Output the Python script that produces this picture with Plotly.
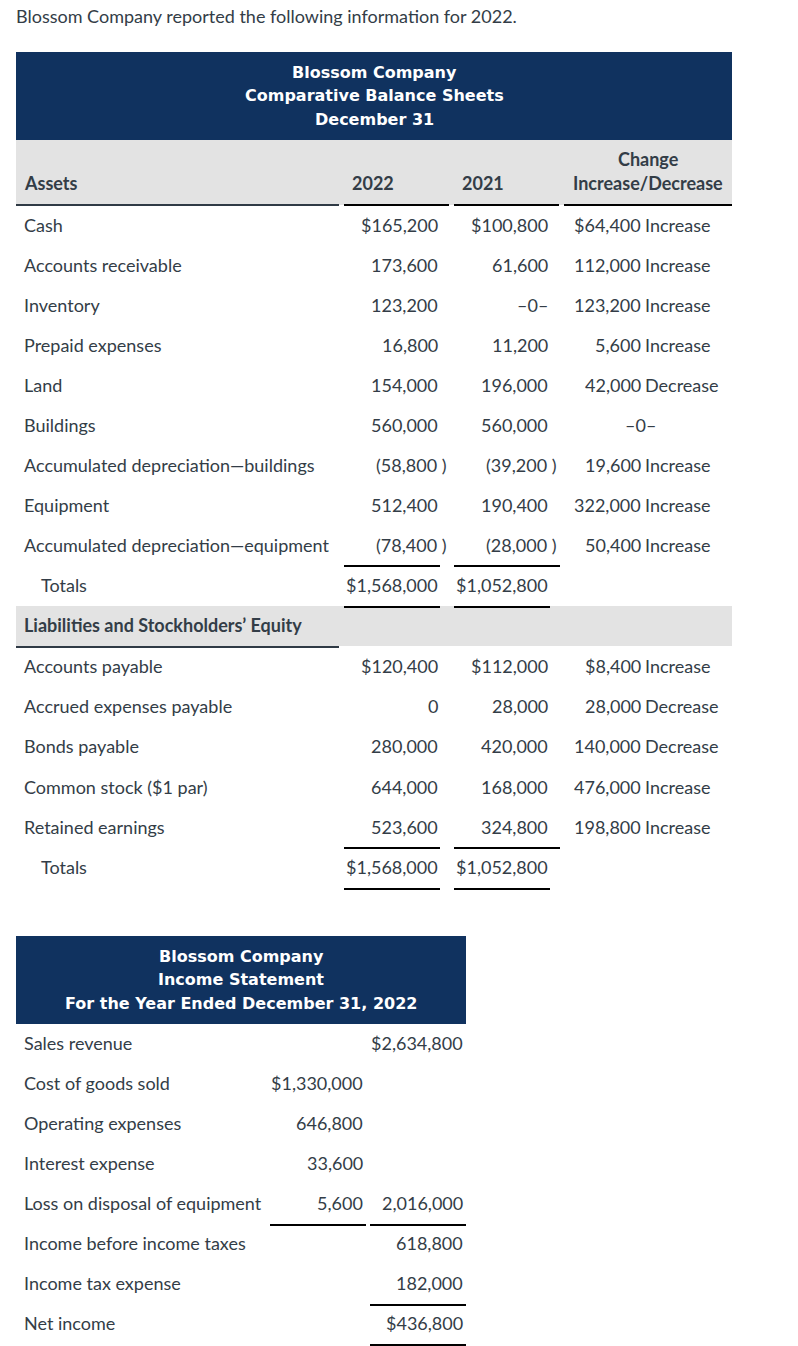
"""
Blossom Company balance sheet and income statement, drawn as a Plotly figure
"""

import plotly.graph_objects as go

W, H = 798, 1346
NAVY = "#10325f"
GREY = "#e3e3e3"
INK = "#333d47"
RULE = "#2f3a45"
FONT = "Lato"
HEAD_FONT = "DejaVu Sans"

# Text and values
intro = "Blossom Company reported the following information for 2022."
bs_title = ["Blossom Company", "Comparative Balance Sheets", "December 31"]
year_labels = ["2022", "2021"]
change_label = ["Change", "Increase/Decrease"]

asset_items = [
    "Cash", "Accounts receivable", "Inventory", "Prepaid expenses", "Land",
    "Buildings", "Accumulated depreciation\u2014buildings", "Equipment",
    "Accumulated depreciation\u2014equipment",
]
assets_2022 = ["$165,200", "173,600", "123,200", "16,800", "154,000",
               "560,000", "(58,800 )", "512,400", "(78,400 )"]
assets_2021 = ["$100,800", "61,600", "\u20130\u2013", "11,200", "196,000",
               "560,000", "(39,200 )", "190,400", "(28,000 )"]
asset_change = ["$64,400", "112,000", "123,200", "5,600", "42,000",
                "\u20130\u2013", "19,600", "322,000", "50,400"]
asset_direction = ["Increase", "Increase", "Increase", "Increase", "Decrease",
                   "", "Increase", "Increase", "Increase"]
asset_totals = ["$1,568,000", "$1,052,800"]

liab_items = ["Accounts payable", "Accrued expenses payable", "Bonds payable",
              "Common stock ($1 par)", "Retained earnings"]
liab_2022 = ["$120,400", "0", "280,000", "644,000", "523,600"]
liab_2021 = ["$112,000", "28,000", "420,000", "168,000", "324,800"]
liab_change = ["$8,400", "28,000", "140,000", "476,000", "198,800"]
liab_direction = ["Increase", "Decrease", "Decrease", "Increase", "Increase"]
liab_totals = ["$1,568,000", "$1,052,800"]

is_title = ["Blossom Company", "Income Statement",
            "For the Year Ended December 31, 2022"]
is_items = ["Sales revenue", "Cost of goods sold", "Operating expenses",
            "Interest expense", "Loss on disposal of equipment",
            "Income before income taxes", "Income tax expense", "Net income"]
is_col1 = ["", "$1,330,000", "646,800", "33,600", "5,600", "", "", ""]
is_col2 = ["$2,634,800", "", "", "", "2,016,000", "618,800", "182,000",
           "$436,800"]

fig = go.Figure()
ann = []
shapes = []


def txt(x, y, s, anchor="left", bold=False, color=INK, size=18, family=FONT):
    ann.append(dict(x=x, y=y, text=s, xref="x", yref="y", showarrow=False,
                    xanchor=anchor, yanchor="middle", borderpad=0,
                    borderwidth=0,
                    font=dict(family=family, size=size, color=color,
                              weight="bold" if bold else "normal")))


def head(x, y, s):
    txt(x, y, s, "center", True, "white", 16, HEAD_FONT)


def rect(x0, y0, x1, y1, color):
    shapes.append(dict(type="rect", xref="x", yref="y", x0=x0, y0=y0,
                       x1=x1, y1=y1, fillcolor=color, line=dict(width=0),
                       layer="below"))


def rule(x0, x1, y, color="black", width=2):
    shapes.append(dict(type="line", xref="x", yref="y", x0=x0, x1=x1,
                       y0=y, y1=y, line=dict(color=color, width=width)))


def num(x, y, s):
    # parenthesised amounts hang their ")" past the column edge
    if s.startswith("("):
        txt(x + 9, y, s, "right")
    else:
        txt(x, y, s, "right")


# intro line
txt(16, 16, intro)

# balance sheet header
rect(16, 52, 732, 140, NAVY)
for i, line in enumerate(bs_title):
    head(374, 72 + 23.5 * i, line)
rect(16, 140, 732, 205, GREY)
txt(24, 183, "Assets", bold=True)
txt(373, 183, year_labels[0], "center", True)
txt(483, 183, year_labels[1], "center", True)
txt(648, 159, change_label[0], "center", True)
txt(648, 183, change_label[1], "center", True)
rule(16, 339, 205, RULE)
rule(344, 449, 205)
rule(454, 559, 205)
rule(564, 732, 205)

COL22, COL21, CHG = 438, 548, 641

for i, item in enumerate(asset_items):
    y = 225 + 40 * i
    txt(24, y, item)
    num(COL22, y, assets_2022[i])
    num(COL21, y, assets_2021[i])
    if asset_direction[i]:
        txt(CHG, y, asset_change[i], "right")
        txt(CHG + 4, y, asset_direction[i])
    else:
        txt(640, y, asset_change[i], "center")

y_tot = 225 + 40 * len(asset_items)
txt(41, y_tot, "Totals")
txt(COL22, y_tot, asset_totals[0], "right")
txt(COL21, y_tot, asset_totals[1], "right")
rule(344, 440, y_tot - 19)
rule(454, 560, y_tot - 19)
rule(344, 440, y_tot + 22)
rule(454, 550, y_tot + 22)

# liabilities section
rect(16, 606, 732, 646, GREY)
txt(24, 625, "Liabilities and Stockholders\u2019 Equity", bold=True)
rule(16, 339, 647, RULE)

for i, item in enumerate(liab_items):
    y = 666 + 40.2 * i
    txt(24, y, item)
    num(COL22, y, liab_2022[i])
    num(COL21, y, liab_2021[i])
    txt(CHG, y, liab_change[i], "right")
    txt(CHG + 4, y, liab_direction[i])

y_tot = 666 + 40.2 * len(liab_items)
txt(41, y_tot, "Totals")
txt(COL22, y_tot, liab_totals[0], "right")
txt(COL21, y_tot, liab_totals[1], "right")
rule(344, 440, y_tot - 19)
rule(454, 560, y_tot - 19)
rule(344, 440, y_tot + 22)
rule(454, 550, y_tot + 22)

# income statement
rect(16, 936, 466, 1024, NAVY)
for i, line in enumerate(is_title):
    head(241, 956 + 23.5 * i, line)

for i, item in enumerate(is_items):
    y = 1043 + 40 * i
    txt(24, y, item)
    if is_col1[i]:
        txt(363, y, is_col1[i], "right")
    if is_col2[i]:
        txt(463, y, is_col2[i], "right")

rule(270, 366, 1225)
rule(370, 466, 1225)
rule(370, 466, 1305)
rule(370, 466, 1345)

fig.update_layout(
    width=W, height=H,
    margin=dict(l=0, r=0, t=0, b=0),
    paper_bgcolor="white", plot_bgcolor="white",
    xaxis=dict(range=[0, W], visible=False, fixedrange=True),
    yaxis=dict(range=[H, 0], visible=False, fixedrange=True),
    annotations=ann, shapes=shapes,
    showlegend=False,
)

fig.write_html("out.html", config={"displayModeBar": False},
               post_script="document.body.style.margin='0';")
